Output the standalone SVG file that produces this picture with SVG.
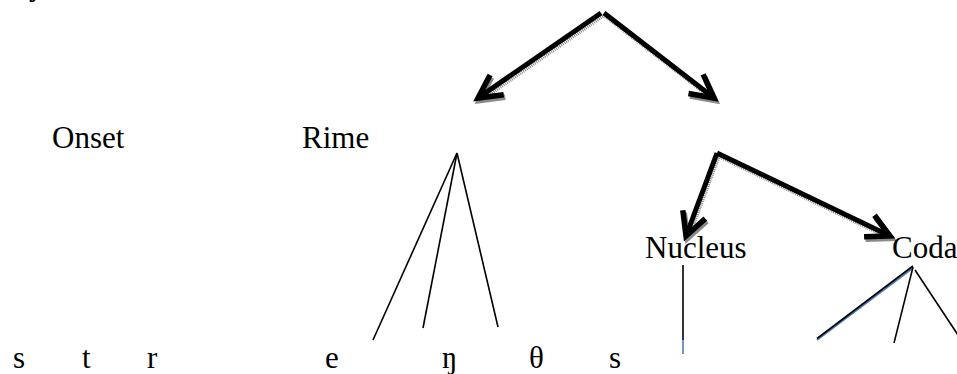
<svg xmlns="http://www.w3.org/2000/svg" width="957" height="374" viewBox="0 0 957 374">
<style>
text{font-family:"Liberation Serif","Times New Roman",serif;font-size:31px;fill:#000}
.arw{fill:none;stroke:#000;stroke-width:5;stroke-linejoin:miter}
.shd{fill:none;stroke:#8a8a8a;stroke-width:5;stroke-dasharray:1 1}
.br{stroke:#000;stroke-width:1.6;fill:none}
.bl{stroke:#4a7ebb;stroke-width:1.6;fill:none}
</style>
<defs>
<marker id="ah" markerUnits="userSpaceOnUse" markerWidth="60" markerHeight="60" viewBox="-35 -30 60 60" refX="0" refY="0" orient="auto" overflow="visible">
<path d="M-23,-12 L0,0 L-23,12" fill="none" stroke="#000" stroke-width="5.5"/>
</marker>
<marker id="ahs" markerUnits="userSpaceOnUse" markerWidth="60" markerHeight="60" viewBox="-35 -30 60 60" refX="0" refY="0" orient="auto" overflow="visible">
<path d="M-23,-12 L0,0 L-23,12" fill="none" stroke="#8a8a8a" stroke-width="5.5"/>
</marker>
</defs>
<rect width="957" height="374" fill="#fff"/>
<g id="connectors">
<g transform="translate(1.5,2.5)" class="shd">
<path d="M601,13 L478,98" marker-end="url(#ahs)"/>
<path d="M604,13 L714,98" marker-end="url(#ahs)"/>
<path d="M717,153 L686,236" marker-end="url(#ahs)"/>
<path d="M717,153 L890,236" marker-end="url(#ahs)"/>
</g>
<g class="arw">
<path d="M601,13 L478,98" marker-end="url(#ah)"/>
<path d="M604,13 L714,98" marker-end="url(#ah)"/>
<path d="M717,153 L686,236" marker-end="url(#ah)"/>
<path d="M717,153 L890,236" marker-end="url(#ah)"/>
</g>
<g id="rime-lines">
<line class="br" x1="457" y1="153" x2="373" y2="340"/>
<line class="br" x1="457" y1="153" x2="423" y2="328"/>
<line class="br" x1="457" y1="153" x2="498" y2="327"/>
</g>
<g id="nucleus-line">
<line class="br" x1="683" y1="265" x2="683" y2="340"/>
<line class="bl" x1="683" y1="340" x2="683" y2="354"/>
</g>
<g id="coda-lines">
<line class="bl" x1="913" y1="268" x2="817" y2="340"/>
<line class="br" x1="913" y1="266" x2="817" y2="338.5"/>
<line class="br" x1="913" y1="267" x2="894" y2="343"/>
<line class="br" x1="915" y1="270" x2="960" y2="338"/>
</g>
</g>
<g id="syllable"><text x="29" y="-5">y</text></g>
<g id="onset"><text x="52" y="148">Onset</text></g>
<g id="rime"><text x="302" y="148">Rime</text></g>
<g id="nucleus"><text x="645" y="258">Nucleus</text></g>
<g id="coda"><text x="892" y="258">Coda</text></g>
<g id="segments">
<text x="13" y="368">s</text>
<text x="82" y="368">t</text>
<text x="147" y="368">r</text>
<text x="325" y="368">e</text>
<text x="442" y="368">ŋ</text>
<text x="529" y="368">θ</text>
<text x="609" y="368">s</text>
</g>
</svg>
